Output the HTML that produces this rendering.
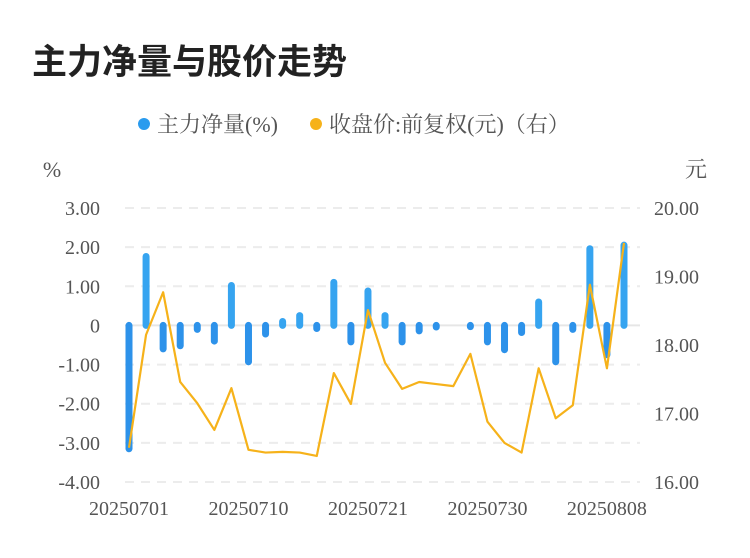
<!DOCTYPE html>
<html><head><meta charset="utf-8"><style>
body{margin:0;background:#fff;font-family:"Liberation Sans","Noto Sans CJK SC",sans-serif;}
#wrap{position:relative;width:750px;height:558px;overflow:hidden;}
.title{position:absolute;left:32px;top:34px;font-size:35px;font-weight:bold;color:#222;letter-spacing:0px;}
svg{position:absolute;left:0;top:0;}
</style></head><body>
<div id="wrap">
<div class="title">主力净量与股价走势</div>
<svg id="chart" width="750" height="558">
<g>
<circle cx="144" cy="124" r="6" fill="#2a9bee"/>
<text x="157" y="132" font-size="22" fill="#555" font-family="Liberation Serif, Noto Serif CJK SC, serif">主力净量(%)</text>
<circle cx="316" cy="124" r="6" fill="#f6b21a"/>
<text x="329" y="132" font-size="22" fill="#555" font-family="Liberation Serif, Noto Serif CJK SC, serif">收盘价:前复权(元)（右）</text>
</g>
<text x="52" y="177" font-size="22" fill="#555" text-anchor="middle" font-family="Liberation Serif, Noto Serif CJK SC, serif">%</text>
<text x="696" y="177" font-size="22" fill="#555" text-anchor="middle" font-family="Liberation Serif, Noto Serif CJK SC, serif">元</text>
</svg>
</div>
<script>
const dates=["20250701","20250702","20250703","20250704","20250707","20250708","20250709","20250710","20250711","20250714","20250715","20250716","20250717","20250718","20250721","20250722","20250723","20250724","20250725","20250728","20250729","20250730","20250731","20250801","20250804","20250805","20250806","20250807","20250808","20250811"];
const netFlow=[-3.15,1.76,-0.6,-0.52,-0.1,-0.4,1.02,-0.93,-0.22,0.1,0.25,-0.08,1.1,-0.42,0.88,0.25,-0.42,-0.14,-0.04,0,-0.03,-0.42,-0.62,-0.18,0.6,-0.93,-0.1,1.96,-0.75,2.05];
const price=[16.50,18.15,18.77,17.46,17.15,16.76,17.37,16.47,16.43,16.44,16.43,16.38,17.59,17.14,18.51,17.74,17.36,17.46,17.43,17.40,17.87,16.88,16.57,16.43,17.66,16.93,17.12,18.88,17.66,19.49];
const leftTicks=[3,2,1,0,-1,-2,-3,-4];
const rightTicks=[20,19,18,17,16];
const xLabelIdx=[0,7,14,21,28];
{
const svg=document.getElementById('chart');
const NS='http://www.w3.org/2000/svg';
const plotTop=208,plotBot=482;
const yL=v=>plotTop+(3-v)/7*(plotBot-plotTop);
const yR=v=>plotTop+(20-v)/4*(plotBot-plotTop);
const xPos=i=>129+i*(624-129)/(dates.length-1);
function mk(tag,attrs){const e=document.createElementNS(NS,tag);for(const k in attrs)e.setAttribute(k,attrs[k]);svg.appendChild(e);return e;}
const font="Liberation Serif, serif";
leftTicks.forEach(t=>{
  const g=mk('line',{x1:125,x2:640,y1:yL(t),y2:yL(t),stroke:t===0?'#e6e6e6':'#ececec','stroke-width':2,'stroke-dasharray':t===0?'none':'9,7'});
  
  
  const tx=mk('text',{x:100,y:yL(t)+7,'font-size':20,fill:'#555','text-anchor':'end','font-family':font});
  tx.textContent=t===0?'0':t.toFixed(2);
  
  
});
rightTicks.forEach(t=>{
  const tx=mk('text',{x:654,y:yR(t)+7,'font-size':20,fill:'#555','font-family':font});
  tx.textContent=t.toFixed(2);
  
  
});
xLabelIdx.forEach(i=>{
  const tx=mk('text',{x:xPos(i),y:515,'font-size':20,fill:'#555','text-anchor':'middle','font-family':font});
  tx.textContent=dates[i];
  
  
});
netFlow.forEach((v,i)=>{
  if(v===0)return;
  const y0=yL(0),y1=yL(v);
  const b=mk('path',{d:`M${xPos(i)} ${y0} L${xPos(i)} ${y1}`,'stroke-width':7,'stroke-linecap':'round',fill:'none'});
  b.setAttribute('stroke',v>0?'#36a4f0':'#2d92ea');
  
  
});
const pts=price.map((p,i)=>xPos(i)+','+yR(p)).join(' ');
const ln=mk('polyline',{points:pts,fill:'none',stroke:'#f6b21a','stroke-width':2.2,'stroke-linejoin':'round'});


}
</script>
</body></html>
